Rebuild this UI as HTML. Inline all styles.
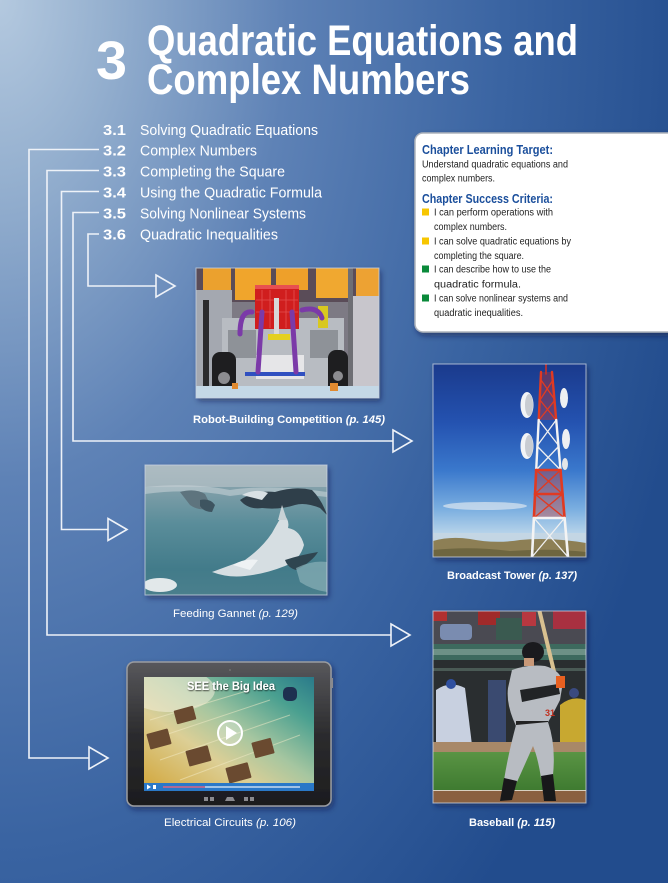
<!DOCTYPE html>
<html>
<head>
<meta charset="utf-8">
<style>
html,body{margin:0;padding:0;width:668px;height:883px;overflow:hidden;background:#234d8e;}
svg{display:block;}
text{font-family:"Liberation Sans",sans-serif;}
</style>
</head>
<body>
<svg width="668" height="883" viewBox="0 0 668 883" xmlns="http://www.w3.org/2000/svg">
<defs>
  <radialGradient id="bg" gradientUnits="userSpaceOnUse" cx="0" cy="0" r="1" gradientTransform="scale(720,1200)">
    <stop offset="0" stop-color="#b4c9df"/>
    <stop offset="0.15" stop-color="#95b0cf"/>
    <stop offset="0.4" stop-color="#5e82b6"/>
    <stop offset="0.7" stop-color="#3a64a2"/>
    <stop offset="1" stop-color="#224c8d"/>
  </radialGradient>
  <filter id="sh" x="-15%" y="-15%" width="135%" height="135%">
    <feDropShadow dx="2" dy="3" stdDeviation="3" flood-color="#08183c" flood-opacity="0.5"/>
  </filter>
  <filter id="tsh" x="-10%" y="-30%" width="120%" height="160%">
    <feDropShadow dx="0.5" dy="0.8" stdDeviation="0.8" flood-color="#000" flood-opacity="0.8"/>
  </filter>
  <linearGradient id="sky" x1="0" y1="0" x2="0" y2="1">
    <stop offset="0" stop-color="#1a3a8c"/>
    <stop offset="0.3" stop-color="#2452b0"/>
    <stop offset="0.55" stop-color="#3a78cc"/>
    <stop offset="0.75" stop-color="#7aaee0"/>
    <stop offset="0.88" stop-color="#b8d4ea"/>
    <stop offset="1" stop-color="#c8dced"/>
  </linearGradient>
  <linearGradient id="water" x1="0" y1="0" x2="0" y2="1">
    <stop offset="0" stop-color="#9fb0b8"/>
    <stop offset="0.2" stop-color="#7e9ea8"/>
    <stop offset="0.45" stop-color="#5a8d9a"/>
    <stop offset="0.8" stop-color="#427b8a"/>
    <stop offset="1" stop-color="#4a7f8c"/>
  </linearGradient>
  <linearGradient id="circ" x1="0" y1="1" x2="1" y2="0">
    <stop offset="0" stop-color="#d2a63a"/>
    <stop offset="0.35" stop-color="#dccf96"/>
    <stop offset="0.55" stop-color="#a6c6a0"/>
    <stop offset="0.8" stop-color="#4aa090"/>
    <stop offset="1" stop-color="#2a7a8a"/>
  </linearGradient>
  <linearGradient id="frame" x1="0" y1="0" x2="0" y2="1">
    <stop offset="0" stop-color="#58585c"/>
    <stop offset="0.5" stop-color="#2c2c2e"/>
    <stop offset="1" stop-color="#1c1c1e"/>
  </linearGradient>
  <linearGradient id="grass" x1="0" y1="0" x2="0" y2="1">
    <stop offset="0" stop-color="#5a9444"/>
    <stop offset="1" stop-color="#3e7a30"/>
  </linearGradient>
  <clipPath id="cRobot"><rect x="196" y="268" width="183" height="130"/></clipPath>
  <clipPath id="cGannet"><rect x="145" y="465" width="182" height="130"/></clipPath>
  <clipPath id="cTower"><rect x="433" y="364" width="153" height="193"/></clipPath>
  <clipPath id="cBase"><rect x="433" y="611" width="153" height="192"/></clipPath>
  <clipPath id="cScreen"><rect x="144" y="677" width="170" height="114"/></clipPath>
</defs>

<!-- background -->
<rect x="0" y="0" width="668" height="883" fill="#224c8d"/>
<rect x="0" y="0" width="668" height="883" fill="url(#bg)"/>

<!-- title -->
<text x="96" y="79" font-size="54" font-weight="bold" fill="#ffffff" textLength="31" lengthAdjust="spacingAndGlyphs">3</text>
<text x="147" y="55" font-size="43" font-weight="bold" fill="#ffffff" textLength="431" lengthAdjust="spacingAndGlyphs">Quadratic Equations and</text>
<text x="147" y="94" font-size="43" font-weight="bold" fill="#ffffff" textLength="323" lengthAdjust="spacingAndGlyphs">Complex Numbers</text>

<!-- section list -->
<g fill="#ffffff" font-size="15">
  <text x="103" y="135" font-weight="bold" textLength="23" lengthAdjust="spacingAndGlyphs">3.1</text>
  <text x="140" y="135" textLength="178" lengthAdjust="spacingAndGlyphs">Solving Quadratic Equations</text>
  <text x="103" y="155.5" font-weight="bold" textLength="23" lengthAdjust="spacingAndGlyphs">3.2</text>
  <text x="140" y="155.5" textLength="117" lengthAdjust="spacingAndGlyphs">Complex Numbers</text>
  <text x="103" y="176.5" font-weight="bold" textLength="23" lengthAdjust="spacingAndGlyphs">3.3</text>
  <text x="140" y="176.5" textLength="145" lengthAdjust="spacingAndGlyphs">Completing the Square</text>
  <text x="103" y="197.5" font-weight="bold" textLength="23" lengthAdjust="spacingAndGlyphs">3.4</text>
  <text x="140" y="197.5" textLength="182" lengthAdjust="spacingAndGlyphs">Using the Quadratic Formula</text>
  <text x="103" y="218.5" font-weight="bold" textLength="23" lengthAdjust="spacingAndGlyphs">3.5</text>
  <text x="140" y="218.5" textLength="166" lengthAdjust="spacingAndGlyphs">Solving Nonlinear Systems</text>
  <text x="103" y="239.5" font-weight="bold" textLength="23" lengthAdjust="spacingAndGlyphs">3.6</text>
  <text x="140" y="239.5" textLength="138" lengthAdjust="spacingAndGlyphs">Quadratic Inequalities</text>
</g>

<!-- connectors -->
<g fill="none" stroke="#eef2f8" stroke-width="1.6" stroke-linejoin="miter">
  <polyline points="99,149.5 29,149.5 29,758 89,758"/>
  <polygon points="89,747 108,758 89,769"/>
  <polyline points="99,170.5 47,170.5 47,635 391,635"/>
  <polygon points="391,624 410,635 391,646"/>
  <polyline points="99,191.5 61.5,191.5 61.5,529.5 108,529.5"/>
  <polygon points="108,518.5 127,529.5 108,540.5"/>
  <polyline points="99,212.5 73,212.5 73,441 393,441"/>
  <polygon points="393,430 412,441 393,452"/>
  <polyline points="99,234 88,234 88,286 156,286"/>
  <polygon points="156,275 175,286 156,297"/>
</g>

<!-- learning target box -->
<g filter="url(#sh)">
  <rect x="415" y="133" width="270" height="199" rx="8" ry="8" fill="#ffffff" stroke="#aeb3bb" stroke-width="1.5"/>
</g>
<g font-size="10" fill="#222">
  <text x="422" y="154" font-size="12.5" font-weight="bold" fill="#1b4f9c" textLength="131" lengthAdjust="spacingAndGlyphs">Chapter Learning Target:</text>
  <text x="422" y="167.5" textLength="146" lengthAdjust="spacingAndGlyphs">Understand quadratic equations and</text>
  <text x="422" y="181.5" textLength="73" lengthAdjust="spacingAndGlyphs">complex numbers.</text>
  <text x="422" y="203" font-size="12.5" font-weight="bold" fill="#1b4f9c" textLength="131" lengthAdjust="spacingAndGlyphs">Chapter Success Criteria:</text>
  <rect x="422" y="208.5" width="7" height="7" fill="#f7c600"/>
  <text x="434" y="215.5" textLength="119" lengthAdjust="spacingAndGlyphs">I can perform operations with</text>
  <text x="434" y="230" textLength="73" lengthAdjust="spacingAndGlyphs">complex numbers.</text>
  <rect x="422" y="237.5" width="7" height="7" fill="#f7c600"/>
  <text x="434" y="244.5" textLength="137" lengthAdjust="spacingAndGlyphs">I can solve quadratic equations by</text>
  <text x="434" y="259" textLength="90" lengthAdjust="spacingAndGlyphs">completing the square.</text>
  <rect x="422" y="265.5" width="7" height="7" fill="#0a8a3a"/>
  <text x="434" y="272.5" textLength="117" lengthAdjust="spacingAndGlyphs">I can describe how to use the</text>
  <text x="434" y="287.5" textLength="87" lengthAdjust="spacingAndGlyphs">quadratic formula.</text>
  <rect x="422" y="294.5" width="7" height="7" fill="#0a8a3a"/>
  <text x="434" y="301.5" textLength="134" lengthAdjust="spacingAndGlyphs">I can solve nonlinear systems and</text>
  <text x="434" y="316" textLength="89" lengthAdjust="spacingAndGlyphs">quadratic inequalities.</text>
</g>

<!-- ROBOT photo -->
<g filter="url(#sh)"><rect x="196" y="268" width="183" height="130" fill="#8a8c94"/></g>
<g clip-path="url(#cRobot)">
  <rect x="196" y="268" width="183" height="130" fill="#7d7a84"/>
  <rect x="196" y="268" width="183" height="34" fill="#5a4c58"/>
  <rect x="203" y="268" width="28" height="22" fill="#eba12e"/>
  <rect x="235" y="268" width="36" height="32" fill="#f0a52c"/>
  <rect x="276" y="268" width="32" height="22" fill="#eea02a"/>
  <rect x="316" y="268" width="32" height="30" fill="#f0a830"/>
  <rect x="356" y="268" width="23" height="28" fill="#eda233"/>
  <rect x="352" y="296" width="27" height="102" fill="#c8c6cc"/>
  <rect x="348" y="268" width="5" height="130" fill="#6e6e74"/>
  <rect x="196" y="290" width="36" height="108" fill="#a4a8b0"/>
  <rect x="203" y="300" width="6" height="90" fill="#2a2a2c"/>
  <rect x="222" y="318" width="122" height="68" fill="#b8bcc2"/>
  <rect x="228" y="330" width="28" height="28" fill="#8e9298"/>
  <rect x="310" y="330" width="28" height="28" fill="#8e9298"/>
  <rect x="256" y="355" width="48" height="24" fill="#e6e6e8"/>
  <rect x="245" y="372" width="60" height="4" fill="#3050c0"/>
  <rect x="255" y="285" width="44" height="44" fill="#d01e1e"/>
  <rect x="255" y="285" width="44" height="4" fill="#e85050"/>
  <g stroke="#f07070" stroke-width="0.8" opacity="0.6">
    <line x1="262" y1="290" x2="262" y2="328"/><line x1="270" y1="290" x2="270" y2="328"/>
    <line x1="286" y1="290" x2="286" y2="328"/><line x1="294" y1="290" x2="294" y2="328"/>
    <line x1="256" y1="300" x2="298" y2="300"/><line x1="256" y1="312" x2="298" y2="312"/>
  </g>
  <rect x="274" y="298" width="5" height="40" fill="#d8d8d8"/>
  <rect x="268" y="334" width="22" height="6" fill="#e4d020"/>
  <rect x="318" y="306" width="10" height="22" fill="#d8c820"/>
  <g fill="none" stroke="#7b3aa8" stroke-width="5" stroke-linecap="round">
    <path d="M262,312 L258,372"/>
    <path d="M292,312 L296,372"/>
    <path d="M252,312 Q240,310 240,334"/>
    <path d="M302,310 Q318,306 322,318"/>
  </g>
  <rect x="212" y="352" width="24" height="46" rx="8" fill="#1e1e20"/>
  <circle cx="224" cy="378" r="6" fill="#8c8c90"/>
  <rect x="328" y="350" width="20" height="48" rx="8" fill="#1e1e20"/>
  <circle cx="338" cy="376" r="5" fill="#8c8c90"/>
  <rect x="196" y="386" width="183" height="12" fill="#c4d8e6"/>
  <rect x="330" y="383" width="8" height="8" fill="#e08a30"/>
  <rect x="232" y="383" width="6" height="6" fill="#e08a30"/>
</g>
<rect x="196" y="268" width="183" height="130" fill="none" stroke="#c8d2e0" stroke-width="1" opacity="0.8"/>
<text x="193" y="423" font-size="11" font-weight="bold" fill="#ffffff" textLength="192" lengthAdjust="spacingAndGlyphs">Robot-Building Competition <tspan font-style="italic">(p. 145)</tspan></text>

<!-- GANNET photo -->
<g filter="url(#sh)"><rect x="145" y="465" width="182" height="130" fill="#5a8d9a"/></g>
<g clip-path="url(#cGannet)">
  <rect x="145" y="465" width="182" height="130" fill="url(#water)"/>
  <rect x="145" y="465" width="182" height="22" fill="#b4c0c6" opacity="0.7"/>
  <path d="M145,487 Q190,482 230,490 Q270,484 327,492 L327,497 Q270,490 230,496 Q190,488 145,494 Z" fill="#c4d0d6" opacity="0.6"/>
  <path d="M240,500 Q255,490 275,492 Q295,486 312,490 Q322,500 327,515 L320,508 Q305,502 295,505 Q280,510 262,508 Q248,510 240,500 Z" fill="#2f3f4a"/>
  <path d="M242,495 Q255,488 268,493 L262,500 Z" fill="#d8e0e4"/>
  <path d="M180,492 Q195,488 205,494 L212,508 Q200,512 190,505 Z" fill="#5e747e"/>
  <path d="M200,500 Q210,498 215,505 L212,512 Q204,512 200,506 Z" fill="#3e5460"/>
  <path d="M212,572 Q228,566 245,560 Q262,548 272,533 Q278,522 283,514 Q290,520 288,528 Q300,530 304,545 Q300,560 285,566 Q265,574 245,576 Q228,578 212,572 Z" fill="#d6dee2"/>
  <path d="M278,520 L282,505 L287,520 Z" fill="#c8d2d6"/>
  <path d="M285,560 Q300,555 318,552 Q312,562 296,570 Q288,568 285,560 Z" fill="#2f4550"/>
  <path d="M233,565 Q245,558 258,560 L250,570 Z" fill="#eef2f4"/>
  <ellipse cx="160" cy="585" rx="17" ry="7" fill="#e2e8ea"/>
  <path d="M296,568 Q312,560 327,562 L327,592 Q312,590 300,582 Z" fill="#8ab0b8" opacity="0.7"/>
</g>
<rect x="145" y="465" width="182" height="130" fill="none" stroke="#c8d2e0" stroke-width="1" opacity="0.8"/>
<text x="173" y="617" font-size="11" fill="#ffffff" textLength="125" lengthAdjust="spacingAndGlyphs">Feeding Gannet <tspan font-style="italic">(p. 129)</tspan></text>

<!-- TOWER photo -->
<g filter="url(#sh)"><rect x="433" y="364" width="153" height="193" fill="#3a78cc"/></g>
<g clip-path="url(#cTower)">
  <rect x="433" y="364" width="153" height="193" fill="url(#sky)"/>
  <ellipse cx="485" cy="506" rx="42" ry="4" fill="#dbe6f0" opacity="0.7"/>
  <rect x="433" y="533" width="153" height="7" fill="#c4d6e4"/>
  <path d="M433,541 Q450,536 470,539 Q495,544 520,540 Q550,537 586,543 L586,557 L433,557 Z" fill="#8d7f55"/>
  <path d="M433,550 Q470,546 510,551 Q550,548 586,552 L586,557 L433,557 Z" fill="#6e6640"/>
  <g stroke-linecap="round">
    <line x1="546" y1="362" x2="546" y2="374" stroke="#d83020" stroke-width="1.5"/>
    <!-- red top -->
    <polygon points="541,372 552,372 556,420 538.7,420" fill="#d8321e" opacity="0.35"/>
    <g stroke="#e03a22" stroke-width="2.4">
      <line x1="541" y1="372" x2="538.7" y2="420"/><line x1="552" y1="372" x2="556.2" y2="420"/>
    </g>
    <g stroke="#e03a22" stroke-width="1.3">
      <line x1="541" y1="380" x2="555" y2="400"/><line x1="553" y1="380" x2="540" y2="400"/>
      <line x1="540" y1="400" x2="556" y2="420"/><line x1="555" y1="400" x2="539" y2="420"/>
    </g>
    <!-- white -->
    <g stroke="#f4f4f4" stroke-width="2.4">
      <line x1="538.7" y1="420" x2="536.2" y2="470"/><line x1="556.2" y1="420" x2="560.5" y2="470"/>
    </g>
    <g stroke="#f0f0f0" stroke-width="1.3">
      <line x1="538.7" y1="420" x2="559" y2="446"/><line x1="556.2" y1="420" x2="537" y2="446"/>
      <line x1="537" y1="446" x2="560.5" y2="470"/><line x1="559" y1="446" x2="536.2" y2="470"/>
    </g>
    <!-- red -->
    <polygon points="536.2,470 560.5,470 564.6,518 533.9,518" fill="#d8321e" opacity="0.35"/>
    <g stroke="#e03a22" stroke-width="2.6">
      <line x1="536.2" y1="470" x2="533.9" y2="518"/><line x1="560.5" y1="470" x2="564.6" y2="518"/>
      <line x1="536" y1="470" x2="560.5" y2="470"/><line x1="535" y1="494" x2="562.5" y2="494"/>
    </g>
    <g stroke="#e03a22" stroke-width="1.4">
      <line x1="536.2" y1="470" x2="562.5" y2="494"/><line x1="560.5" y1="470" x2="535" y2="494"/>
      <line x1="535" y1="494" x2="564.6" y2="518"/><line x1="562.5" y1="494" x2="533.9" y2="518"/>
    </g>
    <!-- white bottom -->
    <g stroke="#f4f4f4" stroke-width="2.6">
      <line x1="533.9" y1="518" x2="532" y2="557"/><line x1="564.6" y1="518" x2="568" y2="557"/>
      <line x1="533.9" y1="518" x2="564.6" y2="518"/>
    </g>
    <g stroke="#f0f0f0" stroke-width="1.3">
      <line x1="533.9" y1="518" x2="568" y2="557"/><line x1="564.6" y1="518" x2="532" y2="557"/>
    </g>
  </g>
  <ellipse cx="527" cy="405" rx="6.5" ry="13" fill="#f2f4f6"/>
  <ellipse cx="529" cy="405" rx="4" ry="11" fill="#c8ccd2"/>
  <ellipse cx="564" cy="398" rx="4" ry="10" fill="#eef0f2"/>
  <ellipse cx="527" cy="446" rx="6.5" ry="13" fill="#f2f4f6"/>
  <ellipse cx="529" cy="446" rx="4" ry="11" fill="#c8ccd2"/>
  <ellipse cx="566" cy="439" rx="4" ry="10" fill="#eef0f2"/>
  <ellipse cx="565" cy="464" rx="3" ry="6" fill="#e4e6e8"/>
</g>
<rect x="433" y="364" width="153" height="193" fill="none" stroke="#c8d2e0" stroke-width="1" opacity="0.8"/>
<text x="447" y="579" font-size="11" font-weight="bold" fill="#ffffff" textLength="130" lengthAdjust="spacingAndGlyphs">Broadcast Tower <tspan font-style="italic">(p. 137)</tspan></text>

<!-- BASEBALL photo -->
<g filter="url(#sh)"><rect x="433" y="611" width="153" height="192" fill="#2c3034"/></g>
<g clip-path="url(#cBase)">
  <rect x="433" y="611" width="153" height="192" fill="#2a2e30"/>
  <rect x="433" y="611" width="153" height="34" fill="#4a4a52"/>
  <rect x="433" y="611" width="14" height="10" fill="#b03030"/>
  <rect x="478" y="611" width="22" height="14" fill="#a02a2a"/>
  <rect x="553" y="611" width="33" height="18" fill="#a83040"/>
  <rect x="440" y="624" width="32" height="16" rx="4" fill="#7a8cb0"/>
  <rect x="496" y="618" width="26" height="22" fill="#3a5a50"/>
  <rect x="522" y="612" width="14" height="14" fill="#b83840"/>
  <rect x="433" y="644" width="153" height="16" fill="#3d6a5e"/>
  <rect x="433" y="649" width="153" height="6" fill="#a8c0b8" opacity="0.45"/>
  <rect x="433" y="668" width="153" height="3" fill="#4a5a55"/>
  <path d="M436,690 Q450,680 465,688 L472,745 L436,745 Z" fill="#c8d0e0"/>
  <circle cx="451" cy="684" r="5" fill="#3050a0"/>
  <rect x="488" y="680" width="18" height="62" fill="#3a4a70"/>
  <path d="M560,705 Q572,695 586,700 L586,745 L560,745 Z" fill="#c8a830"/>
  <circle cx="574" cy="693" r="5" fill="#3a4a80"/>
  <rect x="433" y="742" width="153" height="10" fill="#a88868"/>
  <rect x="433" y="752" width="153" height="39" fill="url(#grass)"/>
  <rect x="433" y="790" width="153" height="1.5" fill="#d8d0c0"/>
  <rect x="433" y="791" width="153" height="12" fill="#8a6040"/>
  <!-- batter -->
  <line x1="539" y1="609" x2="557" y2="684" stroke="#d8c090" stroke-width="4" stroke-linecap="round"/>
  <path d="M512,670 Q528,664 545,666 Q560,670 563,682 L560,700 Q552,716 548,722 L516,726 Q506,705 508,688 Z" fill="#b8bcc2"/>
  <path d="M520,690 L558,684 L560,694 L522,702 Z" fill="#222426"/>
  <rect x="556" y="676" width="9" height="12" fill="#e86020"/>
  <text x="545" y="716" font-size="9" font-weight="bold" fill="#c03020">31</text>
  <rect x="516" y="721" width="32" height="5" fill="#222"/>
  <path d="M516,725 L548,722 Q556,745 553,775 L541,778 Q538,758 533,746 Q526,762 517,782 L504,780 Q508,755 516,725 Z" fill="#b8bcc2"/>
  <path d="M504,778 L517,781 L512,800 L500,801 Z" fill="#18181a"/>
  <path d="M541,776 L553,774 L556,801 L544,801 Z" fill="#18181a"/>
  <ellipse cx="533" cy="652" rx="11" ry="10" fill="#1a1a1e"/>
  <rect x="524" y="658" width="10" height="8" fill="#c89878"/>
</g>
<rect x="433" y="611" width="153" height="192" fill="none" stroke="#c8d2e0" stroke-width="1" opacity="0.8"/>
<text x="469" y="826" font-size="11" font-weight="bold" fill="#ffffff" textLength="86" lengthAdjust="spacingAndGlyphs">Baseball <tspan font-style="italic">(p. 115)</tspan></text>

<!-- TABLET -->
<g filter="url(#sh)">
  <rect x="127" y="662" width="204" height="144" rx="7" ry="7" fill="url(#frame)" stroke="#9a9ca0" stroke-width="1.5"/>
</g>
<rect x="331" y="678" width="2" height="10" fill="#8a8a8e"/>
<circle cx="230" cy="670" r="0.9" fill="#777"/>
<g clip-path="url(#cScreen)">
  <rect x="144" y="677" width="170" height="114" fill="url(#circ)"/>
  <ellipse cx="170" cy="690" rx="45" ry="22" fill="#f4eed8" opacity="0.55"/>
  <g stroke="#f4ecc8" stroke-width="1" opacity="0.5">
    <line x1="150" y1="720" x2="250" y2="690"/><line x1="150" y1="740" x2="270" y2="700"/>
    <line x1="160" y1="760" x2="290" y2="715"/><line x1="180" y1="780" x2="300" y2="735"/>
  </g>
  <g fill="#6a4a30">
    <rect x="175" y="708" width="20" height="14" rx="1" transform="rotate(-15 185 715)"/>
    <rect x="148" y="731" width="22" height="16" rx="1" transform="rotate(-15 159 739)"/>
    <rect x="187" y="748" width="23" height="16" rx="1" transform="rotate(-15 198 756)"/>
    <rect x="253" y="740" width="20" height="16" rx="1" transform="rotate(-15 263 748)"/>
    <rect x="227" y="765" width="23" height="16" rx="1" transform="rotate(-15 238 773)"/>
  </g>
  <rect x="283" y="687" width="14" height="14" rx="5" fill="#1e3050"/>
  <rect x="144" y="783" width="170" height="8" fill="#2a78c8"/>
  <line x1="163" y1="787" x2="300" y2="787" stroke="#e8eef8" stroke-width="1.2"/>
  <line x1="163" y1="787" x2="205" y2="787" stroke="#e05070" stroke-width="1.2"/>
  <polygon points="147,784.5 147,789.5 151,787" fill="#fff"/>
  <rect x="153" y="785" width="3" height="4" fill="#fff"/>
  <circle cx="230" cy="733" r="12" fill="#ffffff" fill-opacity="0.25" stroke="#ffffff" stroke-width="2"/>
  <polygon points="226,726 226,740 237,733" fill="#ffffff"/>
  <text x="187" y="690" font-size="12" font-weight="bold" fill="#ffffff" filter="url(#tsh)" textLength="88" lengthAdjust="spacingAndGlyphs">SEE the Big Idea</text>
</g>
<g fill="#8a8a8e">
  <rect x="204" y="797" width="4" height="4"/><rect x="210" y="797" width="4" height="4"/>
  <path d="M225,801 L235,801 L233,797 L227,797 Z"/>
  <rect x="244" y="797" width="4" height="4"/><rect x="250" y="797" width="4" height="4"/>
</g>
<text x="164" y="826" font-size="11" fill="#ffffff" textLength="132" lengthAdjust="spacingAndGlyphs">Electrical Circuits <tspan font-style="italic">(p. 106)</tspan></text>

</svg>
</body>
</html>
